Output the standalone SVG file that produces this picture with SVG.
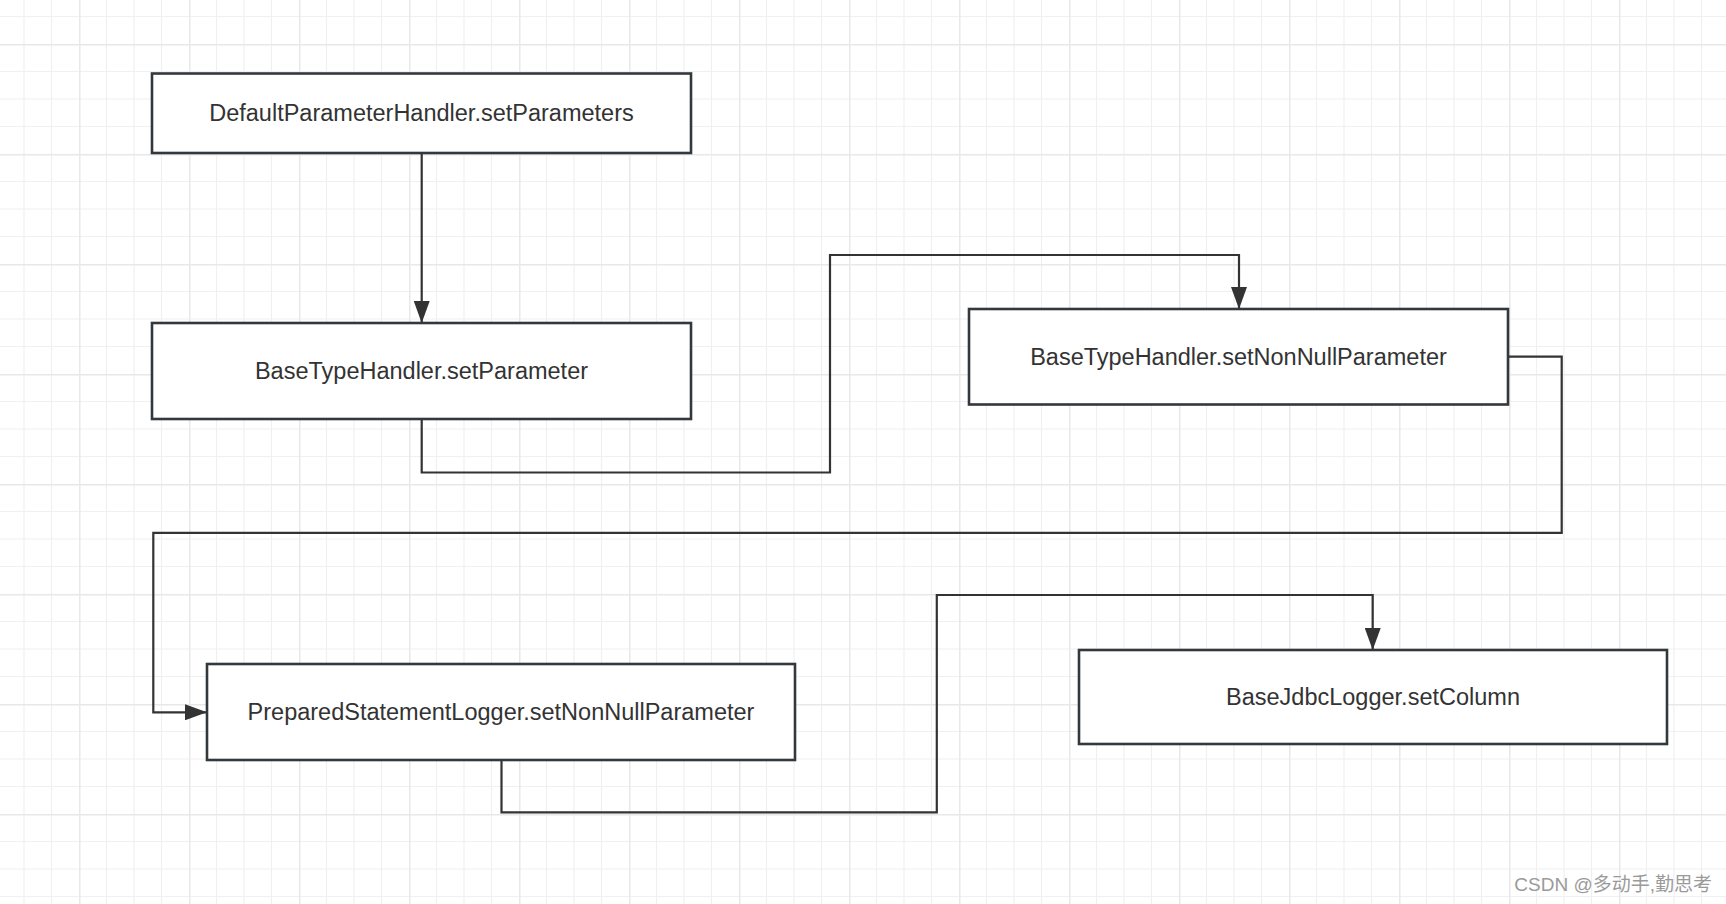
<svg xmlns="http://www.w3.org/2000/svg" width="1726" height="904" viewBox="0 0 1726 904">
  <defs>
    <pattern id="grid" patternUnits="userSpaceOnUse" x="79" y="44" width="110" height="110">
      <path d="M27.5 0V110M55 0V110M82.5 0V110M0 27.5H110M0 55H110M0 82.5H110" stroke="#f0f0f0" stroke-width="1.2" fill="none"/>
      <path d="M0.75 0V110M0 0.75H110" stroke="#e8e8e8" stroke-width="1.5" fill="none"/>
    </pattern>
    <marker id="arrow" viewBox="0 0 22 16" refX="21" refY="8" markerWidth="22" markerHeight="16" markerUnits="userSpaceOnUse" orient="auto">
      <path d="M0 0L22 8L0 16z" fill="#333"/>
    </marker>
    <style>
      .box { fill: #fff; stroke: #33383d; stroke-width: 2.6; }
      .label { font-family: "Liberation Sans", Arial, sans-serif; font-size: 23.5px; fill: #333; text-anchor: middle; dominant-baseline: central; }
      .conn { fill: none; stroke: #333; stroke-width: 2.2; marker-end: url(#arrow); }
      .wm { font-family: "Liberation Sans", "Noto Sans CJK SC", sans-serif; font-size: 19px; fill: #9a9a9a; text-anchor: end; }
    </style>
  </defs>
  <rect width="1726" height="904" fill="#fff"/>
  <rect width="1726" height="904" fill="url(#grid)"/>

  <g id="connectors">
    <path class="conn" d="M421.7 153V322"/>
    <path class="conn" d="M421.7 419V472.5H830V255H1239V308"/>
    <path class="conn" d="M1508 356.7H1561.7V532.8H153.3V712.3H206"/>
    <path class="conn" d="M501.5 760V812.4H936.8V595H1372.7V649"/>
  </g>

  <g id="node-default">
    <rect class="box" x="152" y="73.5" width="539" height="79.5"/>
    <text class="label" x="421.5" y="113">DefaultParameterHandler.setParameters</text>
  </g>
  <g id="node-settparam">
    <rect class="box" x="152" y="323" width="539" height="96"/>
    <text class="label" x="421.5" y="371">BaseTypeHandler.setParameter</text>
  </g>
  <g id="node-setnonnull">
    <rect class="box" x="969" y="309" width="539" height="95.5"/>
    <text class="label" x="1238.5" y="356.5">BaseTypeHandler.setNonNullParameter</text>
  </g>
  <g id="node-psLogger">
    <rect class="box" x="207" y="664" width="588" height="96"/>
    <text class="label" x="501" y="712">PreparedStatementLogger.setNonNullParameter</text>
  </g>
  <g id="node-jdbcLogger">
    <rect class="box" x="1079" y="650" width="588" height="94"/>
    <text class="label" x="1373" y="697">BaseJdbcLogger.setColumn</text>
  </g>

  <text class="wm" x="1712" y="891">CSDN @多动手,勤思考</text>
</svg>
